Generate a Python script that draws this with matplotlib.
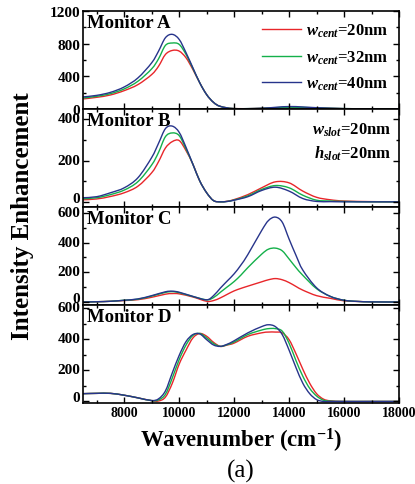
import numpy as np
import matplotlib
matplotlib.use("Agg")
import matplotlib.pyplot as plt
from matplotlib.ticker import MultipleLocator
from matplotlib.path import Path
from matplotlib.patches import PathPatch
from matplotlib.lines import Line2D
from matplotlib.transforms import ScaledTranslation

# fonts: Times-like bold, italic-bold for the w / h symbols
plt.rcParams['font.family'] = ['Liberation Serif', 'DejaVu Serif']
plt.rcParams['font.weight'] = 'bold'
plt.rcParams['mathtext.fontset'] = 'custom'
plt.rcParams['mathtext.rm'] = 'Liberation Serif:bold'
plt.rcParams['mathtext.it'] = 'Liberation Serif:italic:bold'
plt.rcParams['mathtext.bf'] = 'Liberation Serif:bold'

# series labels / colours
widths = ["20nm", "32nm", "40nm"]
colors = ["#e8262a", "#14b04a", "#27348b"]
monitors = ["Monitor A", "Monitor B", "Monitor C", "Monitor D"]

# Monitor A
xa = [6500, 7000, 7500, 8000, 8500, 9000, 9250, 9500, 9750, 10000, 10250, 10500,
      10750, 11000, 11250, 11500, 12000, 13000, 14000, 15000, 16000, 17000, 18000]
a_red = [123, 143, 172, 225, 299, 422, 524, 668, 717, 709, 627, 483,
         320, 176, 81, 32, 5, 8, 18, 12, 4, 1, 0]
a_green = [135, 155, 188, 246, 340, 492, 615, 779, 808, 791, 668, 496,
           320, 176, 81, 32, 5, 8, 22, 14, 5, 2, 0]
a_blue = [148, 167, 204, 270, 381, 566, 709, 873, 914, 852, 689, 504,
          320, 176, 81, 32, 5, 9, 30, 16, 5, 2, 0]

# Monitor B
xb = [6500, 7000, 7500, 8000, 8500, 9000, 9250, 9500, 9750, 10000, 10250, 10500,
      10750, 11000, 11250, 11500, 11750, 12000, 12500, 13000, 13500, 14000, 14500,
      15000, 15500, 16000, 17000, 18000]
b_red = [10, 14, 26, 44, 76, 141, 195, 261, 292, 297, 248, 182,
         101, 44, 6, 0, 3, 11, 35, 68, 97, 92, 52, 22, 10, 4, 1, 0]
b_green = [15, 20, 35, 57, 98, 179, 240, 316, 334, 321, 256, 182,
           101, 44, 6, 0, 2, 9, 29, 60, 79, 68, 32, 8, 4, 2, 0, 0]
b_blue = [20, 25, 44, 68, 117, 215, 284, 355, 367, 337, 264, 182,
          101, 44, 6, 0, 2, 8, 25, 55, 71, 52, 16, 2, 1, 0, 0, 0]

# Monitor C
xc = [6500, 7000, 7500, 8000, 8500, 9000, 9500, 9750, 10000, 10500, 11000, 11250,
      11500, 11750, 12000, 12250, 12500, 13000, 13250, 13500, 13750, 14000, 14250,
      14500, 15000, 15500, 16000, 16500, 17000, 18000]
c_red = [0, 2, 5, 10, 16, 32, 53, 57, 55, 34, 5, 10,
         28, 52, 75, 92, 107, 136, 150, 158, 150, 131, 105,
         80, 43, 25, 8, 4, 1, 0]
c_green = [0, 2, 5, 12, 19, 40, 65, 70, 63, 37, 15, 30,
           66, 102, 138, 182, 232, 322, 356, 363, 345, 290, 232,
           180, 90, 38, 12, 4, 1, 0]
c_blue = [0, 2, 5, 12, 21, 43, 69, 73, 66, 38, 15, 43,
          94, 142, 190, 250, 320, 481, 549, 572, 538, 424, 315,
          215, 96, 38, 12, 4, 1, 0]

# Monitor D
xd = [6500, 7000, 7500, 8000, 8500, 9000, 9250, 9500, 9750, 10000, 10250, 10500,
      10750, 11000, 11250, 11500, 11750, 12000, 12500, 13000, 13250, 13500, 13750,
      14000, 14250, 14500, 14750, 15000, 15250, 15500, 16000, 17000, 18000]
d_red = [50, 52, 52, 40, 23, 5, 3, 28, 117, 240, 330, 408,
         437, 419, 380, 354, 363, 375, 419, 441, 446, 446, 441,
         397, 307, 207, 117, 50, 15, 4, 0, 0, 0]
d_green = [50, 52, 52, 40, 23, 5, 10, 46, 151, 269, 363, 424,
           437, 408, 372, 354, 365, 382, 430, 459, 468, 468, 452,
           374, 263, 162, 84, 35, 8, 2, 0, 0, 0]
d_blue = [50, 52, 52, 40, 23, 6, 17, 68, 184, 296, 385, 430,
          434, 397, 363, 354, 368, 390, 441, 481, 493, 481, 430,
          330, 218, 117, 50, 12, 0, 0, 0, 0, 0]

panels = [
    (xa, [a_red, a_green, a_blue], (0, 1200), 400, 200),
    (xb, [b_red, b_green, b_blue], (-25, 450), 200, 100),
    (xc, [c_red, c_green, c_blue], (-20, 640), 200, 100),
    (xd, [d_red, d_green, d_blue], (-10, 620), 200, 100),
]


def smooth_path(x, y):
    # spline-style drawing through the read points (cubic Bezier segments)
    p = np.column_stack([x, y]).astype(float)
    p = np.vstack([p[0], p, p[-1]])
    verts = [p[1]]
    codes = [Path.MOVETO]
    for i in range(1, len(p) - 2):
        c1 = p[i] + (p[i + 1] - p[i - 1]) / 6
        c2 = p[i + 1] - (p[i + 2] - p[i]) / 6
        verts += [c1, c2, p[i + 1]]
        codes += [Path.CURVE4] * 3
    return Path(verts, codes)


fig = plt.figure(figsize=(4.15, 4.85), dpi=100)
left, right = 83 / 415, 399 / 415
top_px, bot_px = 12, 404
h = (bot_px - top_px) / 4
# the original's "0" labels in B-D sit a few pixels above their ticks
lift_zero = ScaledTranslation(0, 0.05, fig.dpi_scale_trans)
lift_other = ScaledTranslation(0, 0.02, fig.dpi_scale_trans)

axes = []
for i, (x, ys, ylim, major, minor) in enumerate(panels):
    y0 = 1 - (top_px + (i + 1) * h) / 485
    ax = fig.add_axes([left, y0, right - left, h / 485])
    for y, c in zip(ys, colors):
        ax.add_patch(PathPatch(smooth_path(x, y), fill=False, edgecolor=c, lw=1.0))
    ax.set_xlim(6500, 18000)
    ax.set_ylim(*ylim)
    ax.xaxis.set_major_locator(MultipleLocator(2000))
    ax.xaxis.set_minor_locator(MultipleLocator(1000))
    ax.yaxis.set_major_locator(MultipleLocator(major))
    ax.yaxis.set_minor_locator(MultipleLocator(minor))
    ax.tick_params(which='both', direction='in', top=True, right=True, width=1.0)
    ax.tick_params(which='major', length=4, pad=2)
    ax.tick_params(axis='y', labelsize=11)
    ax.tick_params(axis='x', labelsize=10)
    ax.tick_params(which='minor', length=2)
    for s in ax.spines.values():
        s.set_linewidth(1.2)
    if i < 3:
        ax.tick_params(labelbottom=False)
    if i > 0:
        locs = ax.yaxis.get_majorticklocs()
        for loc, t in zip(locs, ax.yaxis.get_major_ticks(len(locs))):
            shift = lift_zero if loc == 0 else lift_other
            t.label1.set_transform(t.label1.get_transform() + shift)
    ax.text(0.012, 0.97, monitors[i], transform=ax.transAxes, ha='left', va='top',
            fontsize=13.5, fontweight='bold')
    axes.append(ax)

handles = [Line2D([], [], color=c, lw=1.0) for c in colors]
labels = [r"$w_{cent}$=" + w for w in widths]
axes[0].legend(handles, labels, loc='upper right', frameon=False, fontsize=12,
               handlelength=2.3, handletextpad=0.3, labelspacing=0.55,
               borderaxespad=0.0, borderpad=0.65)
axes[1].text(0.975, 0.79, r"$w_{slot}$=20nm", transform=axes[1].transAxes,
             ha='right', va='center', fontsize=12)
axes[1].text(0.975, 0.555, r"$h_{slot}$=20nm", transform=axes[1].transAxes,
             ha='right', va='center', fontsize=12)

axes[3].set_xlabel(r"Wavenumber (cm$^{\mathbf{-1}}$)", fontsize=16.5, fontweight='bold', labelpad=5)
fig.text(22 / 415, 0.555, "Intensity Enhancement", rotation=90, ha='center', va='center',
         fontsize=18, fontweight='bold')
fig.text((left + right) / 2, 1 - 471 / 485, "(a)", ha='center', va='center',
         fontsize=18, fontweight='normal')

fig.savefig("out.png", dpi=100)
